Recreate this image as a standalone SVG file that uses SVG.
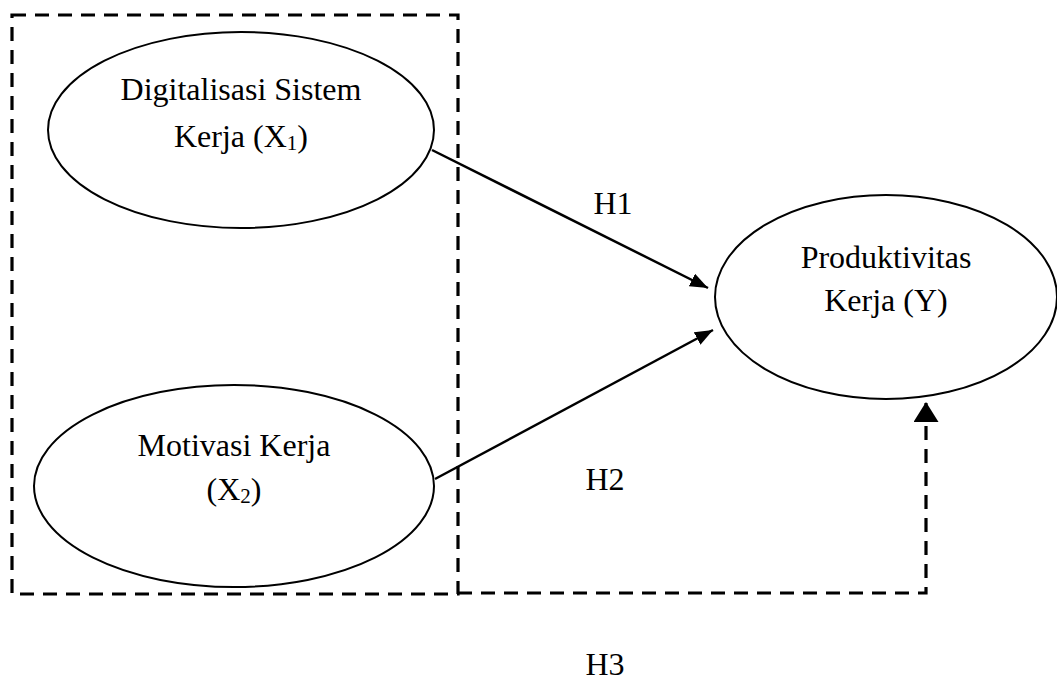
<svg xmlns="http://www.w3.org/2000/svg" width="1057" height="691" viewBox="0 0 1057 691">
<style>
.node{fill:#fff;stroke:#000;stroke-width:2}
.t{font-family:"Liberation Serif","Times New Roman",serif;font-size:32px;fill:#000;text-anchor:middle}
.sub{font-size:21px}
.dash{fill:none;stroke:#000;stroke-width:3.2;stroke-dasharray:14 9}
.arr{fill:none;stroke:#000;stroke-width:2.5}
</style>
<defs>
<marker id="ah" markerUnits="userSpaceOnUse" markerWidth="18" markerHeight="14" refX="18" refY="7" orient="auto"><path d="M0,0 L18,7 L0,14 z" fill="#000"/></marker>
<marker id="ah3" markerUnits="userSpaceOnUse" markerWidth="20" markerHeight="25" refX="20" refY="12.5" orient="auto"><path d="M0,0 L20,12.5 L0,25 z" fill="#000"/></marker>
</defs>
<rect id="group-box" class="dash" x="12" y="15" width="446" height="579"/>
<g id="connectors">
<line class="arr" x1="432" y1="150" x2="708" y2="288" marker-end="url(#ah)"/>
<line class="arr" x1="435" y1="479" x2="713" y2="330" marker-end="url(#ah)"/>
<path class="dash" d="M458 593 H926 V402" marker-end="url(#ah3)"/>
<text class="t" x="613" y="214">H1</text>
<text class="t" x="605" y="490">H2</text>
<text class="t" x="605" y="675">H3</text>
</g>
<g id="x1">
<ellipse class="node" cx="241" cy="130" rx="193" ry="98"/>
<text class="t" x="241" y="100">Digitalisasi Sistem</text>
<text class="t" x="241" y="147">Kerja (X<tspan class="sub" dy="3">1</tspan><tspan dy="-3">)</tspan></text>
</g>
<g id="x2">
<ellipse class="node" cx="234" cy="486" rx="200" ry="101"/>
<text class="t" x="234" y="456">Motivasi Kerja</text>
<text class="t" x="234" y="500">(X<tspan class="sub" dy="3">2</tspan><tspan dy="-3">)</tspan></text>
</g>
<g id="y">
<ellipse class="node" cx="886" cy="297" rx="171" ry="102"/>
<text class="t" x="886" y="268">Produktivitas</text>
<text class="t" x="886" y="311">Kerja (Y)</text>
</g>
</svg>
